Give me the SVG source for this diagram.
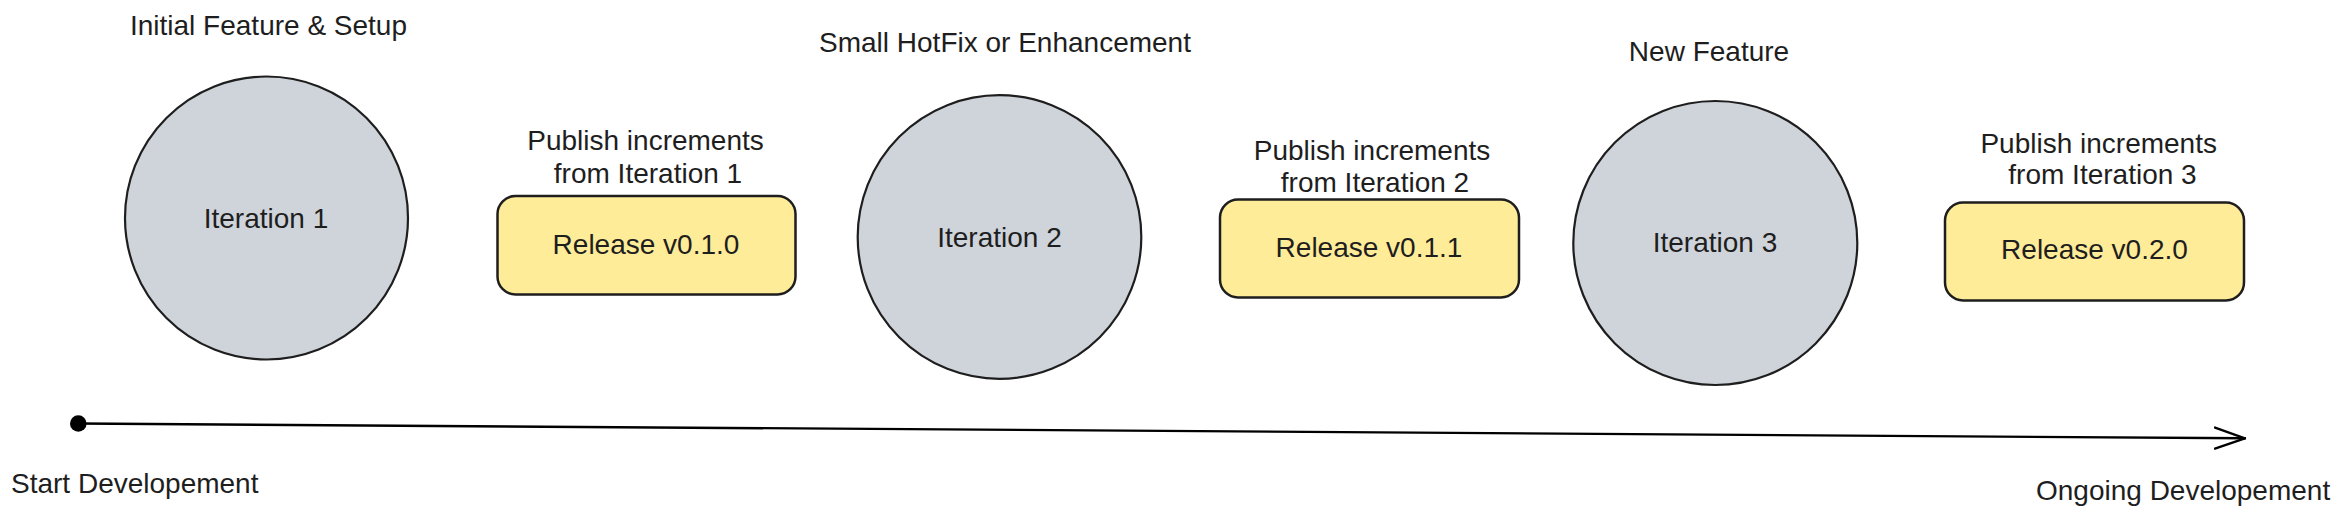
<svg xmlns="http://www.w3.org/2000/svg" width="2338" height="519" viewBox="0 0 2338 519">
<defs>
<style>
text{font-family:"Liberation Sans",Arial,sans-serif;font-size:28px;fill:#1e1e1e}
.c{text-anchor:middle}
.iter{fill:#ced4da;stroke:#1e1e1e;stroke-width:2.2}
.rel{fill:#ffec99;stroke:#1e1e1e;stroke-width:2.5}
.edge{fill:none;stroke:#000;stroke-width:2.4;stroke-linecap:round;stroke-linejoin:round}
</style>
<marker id="open" viewBox="0 0 32 24" refX="31" refY="12" markerWidth="32" markerHeight="24" markerUnits="userSpaceOnUse" orient="auto">
<path d="M1 1.5 L31 12 L1 22.5" fill="none" stroke="#000" stroke-width="2.4" stroke-linecap="round"/>
</marker>
</defs>
<rect width="2338" height="519" fill="#fff"/>
<g id="connectors">
<circle cx="78.3" cy="423.5" r="8.3" fill="#000"/>
<path class="edge" d="M78 423.5 L2245 438.3" marker-end="url(#open)"/>
</g>
<g id="label-start"><text x="11" y="493">Start Developement</text></g>
<g id="label-ongoing"><text x="2036" y="500">Ongoing Developement</text></g>
<g id="iteration1">
<text class="c" x="268.5" y="34.5">Initial Feature &amp; Setup</text>
<circle class="iter" cx="266.5" cy="218" r="141.5"/>
<text class="c" x="266" y="227.5">Iteration 1</text>
</g>
<g id="release1">
<text class="c" x="645.5" y="149.5">Publish increments</text>
<text class="c" x="648" y="182.5">from Iteration 1</text>
<rect class="rel" x="497.5" y="196" width="298" height="98.5" rx="18"/>
<text class="c" x="646" y="254">Release v0.1.0</text>
</g>
<g id="iteration2">
<text class="c" x="1005" y="51.5">Small HotFix or Enhancement</text>
<circle class="iter" cx="999.5" cy="237" r="141.8"/>
<text class="c" x="999.5" y="246.5">Iteration 2</text>
</g>
<g id="release2">
<text class="c" x="1372" y="159.5">Publish increments</text>
<text class="c" x="1375" y="191.5">from Iteration 2</text>
<rect class="rel" x="1220" y="199.5" width="299" height="98" rx="18"/>
<text class="c" x="1369" y="256.5">Release v0.1.1</text>
</g>
<g id="iteration3">
<text class="c" x="1709" y="61">New Feature</text>
<circle class="iter" cx="1715.3" cy="243" r="142"/>
<text class="c" x="1715" y="252.3">Iteration 3</text>
</g>
<g id="release3">
<text class="c" x="2098.7" y="152.7">Publish increments</text>
<text class="c" x="2102.5" y="184.3">from Iteration 3</text>
<rect class="rel" x="1945" y="202.5" width="299" height="98" rx="18"/>
<text class="c" x="2094.5" y="259.3">Release v0.2.0</text>
</g>
</svg>
